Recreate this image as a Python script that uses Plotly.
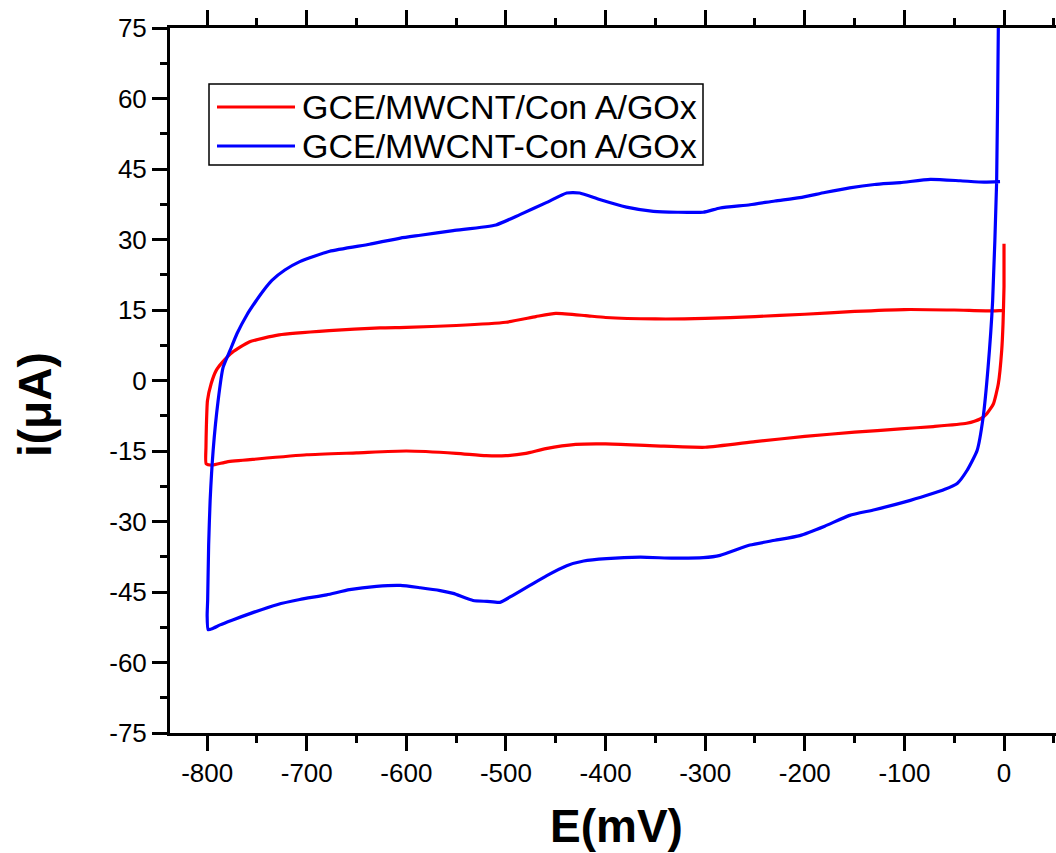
import plotly.graph_objects as go

# ---- data ----
red_name = "GCE/MWCNT/Con A/GOx"
red_E = [0, 0, -1, -2.3, -5.7, -10.7, -17.4, -24, -37.5, -71, -104, -150, -200, -250, -300,
         -350, -400, -430, -460, -480, -500, -520, -550, -600, -650, -700, -750, -780, -795,
         -801, -801.2, -800.8, -799.7, -796, -791, -784.6, -774.6, -757.8, -727.7, -677.5,
         -626.5, -600, -550, -500, -470, -450, -420, -400, -350, -300, -250, -200, -150, -100,
         -50, -10, -2]
red_I = [29.1, 20, 12, 6.4, -0.7, -5, -7.1, -8.2, -9.1, -9.8, -10.3, -11, -11.9, -13, -14.2,
         -13.9, -13.5, -13.6, -14.5, -15.5, -16, -16, -15.5, -15, -15.4, -15.8, -16.7, -17.3, -18,
         -17.7, -14.2, -9.9, -4.3, -0.7, 2.1, 3.9, 6, 8.2, 9.7, 10.6,
         11.2, 11.3, 11.7, 12.4, 13.6, 14.3, 13.8, 13.4, 13.1, 13.2, 13.6, 14.1, 14.7, 15.1,
         15, 14.8, 14.9]

blue_name = "GCE/MWCNT-Con A/GOx"
blue_E = [-5, -5.7, -7.4, -11.4, -16, -21, -27, -37, -47, -60, -71, -94, -130, -155, -180, -205,
          -230, -255, -285, -302, -332, -365, -399, -422, -439, -459, -476, -493, -506, -519,
          -533, -553, -566, -586, -606, -630, -657, -680, -707, -730, -757, -775, -787, -795,
          -799, -800, -799.5, -798.5, -797, -794, -789, -784, -777, -770, -760, -752, -744, -735,
          -722, -707, -677, -637, -606, -586, -553, -510, -486, -459, -439, -426, -406, -379,
          -352, -328, -302, -285, -255, -230, -205, -180, -155, -130, -104, -74, -44, -20, -4]
blue_I = [85, 75, 42.2, 17, 2.8, -7.9, -14.9, -19.1, -21.9, -23.2, -24, -25.5, -27.5, -28.7, -31, -33,
          -34, -35, -37.2, -37.7, -37.8, -37.6, -37.9, -38.4, -39.4, -41.5, -43.6, -45.7, -47.2, -47,
          -46.8, -45.3, -44.7, -44.1, -43.6, -43.8, -44.5, -45.6, -46.6, -47.7, -49.6, -51, -52, -52.8,
          -53, -50, -46.8, -35, -25.5, -14.9, -4.3, 2.8, 6.4, 10, 14, 16.6, 19, 21.3,
          23.5, 25.3, 27.5, 29, 30.3, 30.9, 31.9, 33.1, 35.3, 37.9, 39.9, 39.9, 38.5, 36.9,
          36, 35.8, 35.8, 36.7, 37.4, 38.2, 38.9, 40, 41, 41.7, 42.1, 42.8, 42.5, 42.2, 42.3]

x_title = "E(mV)"
y_title = "i(\u03bcA)"
x_ticks = [-800, -700, -600, -500, -400, -300, -200, -100, 0]
y_ticks = [75, 60, 45, 30, 15, 0, -15, -30, -45, -60, -75]

# ---- figure ----
W, H = 1056, 853
L, R, T, B = 170, 0, 28, 120
pw, ph = W - L - R, H - T - B

def px(xp):
    return (xp - L) / pw

def py(yp):
    return (H - B - yp) / ph

fig = go.Figure()
fig.add_trace(go.Scatter(x=red_E, y=red_I, mode="lines", name=red_name,
                         line=dict(color="#FF0000", width=3.2, shape="spline", smoothing=0.5),
                         showlegend=False))
fig.add_trace(go.Scatter(x=blue_E, y=blue_I, mode="lines", name=blue_name,
                         line=dict(color="#0000FF", width=3.2, shape="spline", smoothing=0.5),
                         showlegend=False))

font = "Arial, Liberation Sans, sans-serif"
axis_common = dict(showgrid=False, zeroline=False, showline=True, linecolor="black",
                   linewidth=3, ticks="outside", ticklen=15, tickwidth=3, tickcolor="black",
                   tickfont=dict(family=font, size=26, color="black"))

fig.update_xaxes(range=[-837.3, 52.2], tickvals=x_ticks, ticktext=[str(v) for v in x_ticks],
                 mirror="ticks",
                 minor=dict(dtick=50, tick0=0, ticks="outside", ticklen=7, tickwidth=3,
                            tickcolor="black"),
                 **axis_common)
fig.update_yaxes(range=[-75, 75], tickvals=y_ticks, ticktext=[str(v) for v in y_ticks],
                 mirror=False,
                 minor=dict(dtick=7.5, tick0=0, ticks="outside", ticklen=7, tickwidth=3,
                            tickcolor="black"),
                 **axis_common)

# legend drawn as box + sample lines + text
shapes = [
    dict(type="rect", xref="paper", yref="paper", x0=px(209), x1=px(703), y0=py(165), y1=py(84),
         line=dict(color="black", width=1.5), fillcolor="white", layer="above"),
    dict(type="line", xref="paper", yref="paper", x0=px(217), x1=px(295), y0=py(107), y1=py(107),
         line=dict(color="#FF0000", width=3), layer="above"),
    dict(type="line", xref="paper", yref="paper", x0=px(217), x1=px(295), y0=py(146), y1=py(146),
         line=dict(color="#0000FF", width=3), layer="above"),
]
annotations = [
    dict(text=red_name, xref="paper", yref="paper", x=px(300), y=py(107), xanchor="left",
         yanchor="middle", showarrow=False, font=dict(family=font, size=34, color="black")),
    dict(text=blue_name, xref="paper", yref="paper", x=px(300), y=py(146), xanchor="left",
         yanchor="middle", showarrow=False, font=dict(family=font, size=34, color="black")),
    dict(text="<b>%s</b>" % x_title, xref="paper", yref="paper", x=px(616), y=py(826),
         xanchor="center", yanchor="middle", showarrow=False,
         font=dict(family=font, size=46, color="black")),
    dict(text="<b>%s</b>" % y_title, xref="paper", yref="paper", x=px(35), y=py(405),
         xanchor="center", yanchor="middle", showarrow=False, textangle=-90,
         font=dict(family=font, size=46, color="black")),
]

fig.update_layout(width=W, height=H, margin=dict(l=L, r=R, t=T, b=B, pad=0),
                  plot_bgcolor="white", paper_bgcolor="white",
                  shapes=shapes, annotations=annotations, showlegend=False)

fig.write_html("out.html", config={"displayModeBar": False},
               post_script="document.body.style.margin='0';document.body.style.overflow='hidden';")
